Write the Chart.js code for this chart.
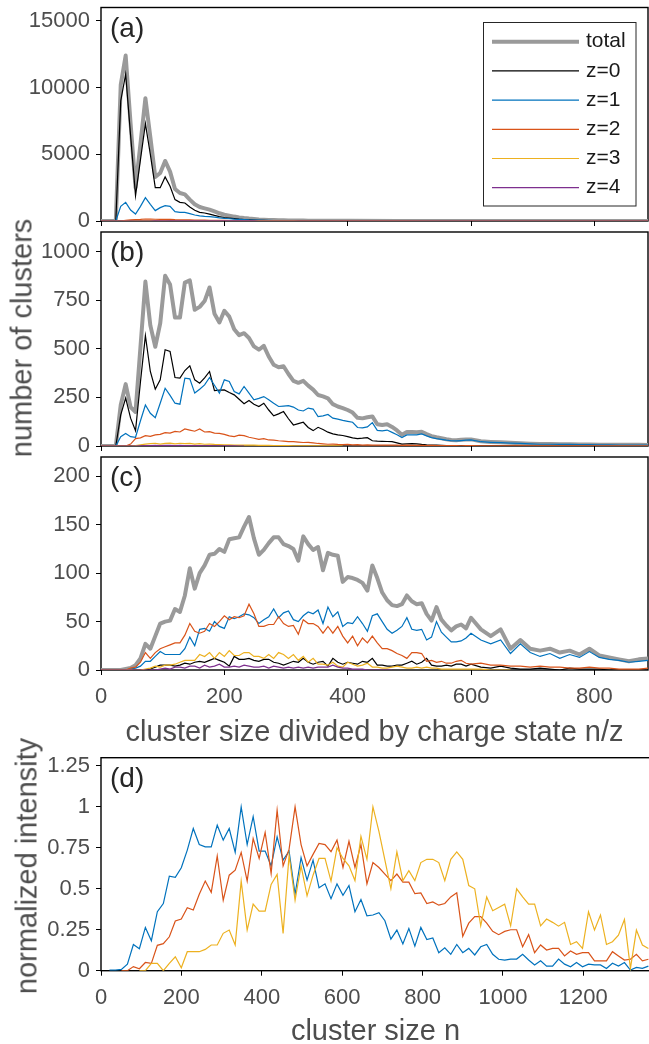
<!DOCTYPE html>
<html>
<head>
<meta charset="utf-8">
<script src="https://cdn.jsdelivr.net/npm/chart.js@4.4.1/dist/chart.umd.min.js"></script>
<style>
  html, body { margin: 0; padding: 0; background: #fff; overflow: hidden; }
  #page { position: relative; width: 649px; height: 1044px; overflow: hidden; background: #fff; }
  #page canvas { position: absolute; left: 0; }
  .ylabel { position: absolute; width: 0; height: 0; }
  .ylabel span {
    position: absolute; left: 0; top: 0; white-space: nowrap;
    transform: translate(-50%, -50%) rotate(-90deg);
    font: 29px/29px 'Liberation Sans', Arial, Helvetica, sans-serif; color: #4d4d4d;
  }
</style>
</head>
<body>
<div id="page">
  <canvas id="panelA" width="649" height="229" style="top:0px;width:649px;height:229px"></canvas>
  <canvas id="panelB" width="649" height="225" style="top:229px;width:649px;height:225px"></canvas>
  <canvas id="panelC" width="649" height="296" style="top:454px;width:649px;height:296px"></canvas>
  <canvas id="panelD" width="652" height="300" style="top:750px;width:652px;height:300px"></canvas>
  <div class="ylabel" style="left:21.6px;top:338px"><span>number of clusters</span></div>
  <div class="ylabel" style="left:26.6px;top:866px"><span>normalized intensity</span></div>
</div>
<script>
const FONT = "'Liberation Sans', Arial, Helvetica, sans-serif";
const TEXT = '#4d4d4d';

// bin centres (n/z for a-c, n for d)
function steps(from, to, step) {
    const out = [];
    for (let v = from; v <= to + 1e-6; v += step) out.push(Math.round(v * 10) / 10);
    return out;
}
const nzA = steps(0, 400, 8).concat([480, 560, 640, 720, 800, 888]);
const nzBC = steps(0, 600, 8).concat(steps(616, 888, 16));
const nD = steps(21, 1362, 14.9);

// ---- panel (a)
const totalA = [
    0, 0, 0, 0, 10200, 12400, 7300, 2500, 5800, 9200,
    6300, 3300, 3600, 4500, 3700, 2400, 2100, 2000, 1600, 1250,
    1050, 950, 850, 720, 580, 470, 400, 330, 270, 220,
    180, 150, 120, 100, 80, 70, 60, 52, 45, 38,
    33, 29, 25, 22, 20, 18, 16, 14, 12, 11,
    10, 5, 3, 2, 1, 1, 0
];
const z0A = [
    0, 0, 0, 0, 9000, 11000, 6400, 1900, 4600, 7300,
    5000, 2500, 2500, 3300, 2600, 1600, 1400, 1350, 1050, 800,
    650, 600, 520, 420, 330, 260, 220, 180, 140, 110,
    90, 70, 55, 45, 35, 30, 25, 20, 16, 12,
    10, 8, 6, 5, 4, 3, 2, 2, 1, 1,
    1, 0, 0, 0, 0, 0, 0
];
const z1A = [
    0, 0, 0, 0, 1100, 1400, 820, 520, 1100, 1750,
    1250, 780, 1000, 1150, 1100, 700, 650, 650, 550, 450,
    380, 350, 330, 290, 240, 200, 170, 140, 120, 100,
    80, 70, 60, 50, 40, 35, 30, 28, 25, 22,
    20, 18, 16, 14, 13, 12, 11, 10, 9, 8,
    8, 4, 2, 1, 1, 0, 0
];
const z2A = [
    0, 0, 0, 0, 0, 40, 80, 100, 120, 150,
    140, 130, 120, 130, 120, 100, 95, 90, 80, 70,
    65, 60, 55, 50, 45, 40, 35, 30, 28, 25,
    22, 20, 18, 16, 14, 12, 11, 10, 9, 8,
    7, 6, 6, 5, 5, 4, 4, 3, 3, 3,
    3, 2, 1, 1, 0, 0, 0
];
const z3A = [
    0, 0, 0, 0, 0, 0, 0, 5, 10, 14,
    18, 20, 22, 22, 20, 20, 18, 18, 16, 15,
    14, 13, 12, 11, 10, 9, 8, 7, 6, 5,
    5, 4, 4, 3, 3, 3, 2, 2, 2, 2,
    1, 1, 1, 1, 1, 1, 1, 1, 1, 1,
    1, 0, 0, 0, 0, 0, 0
];
const z4A = [
    0, 0, 0, 0, 0, 0, 0, 0, 0, 0,
    0, 2, 3, 4, 5, 5, 6, 6, 6, 5,
    5, 5, 4, 4, 4, 3, 3, 3, 2, 2,
    2, 2, 1, 1, 1, 1, 1, 1, 1, 1,
    1, 1, 1, 1, 1, 1, 1, 1, 1, 1,
    1, 0, 0, 0, 0, 0, 0
];

// ---- panel (b)
const totalB = [
    0, 0, 0, 0, 211, 318, 200, 175, 510, 845,
    620, 510, 630, 875, 830, 660, 660, 840, 851, 700,
    715, 745, 815, 680, 635, 695, 665, 600, 570, 580,
    555, 512, 495, 515, 460, 418, 405, 410, 370, 335,
    325, 335, 310, 290, 262, 255, 245, 215, 203, 195,
    185, 172, 145, 142, 148, 152, 112, 108, 112, 98,
    80, 58, 72, 72, 71, 73, 61, 51, 45, 40,
    35, 31, 30, 32, 33, 34, 24, 21, 19, 17,
    14, 12, 10, 10, 9, 9, 8, 8, 7, 7,
    6, 6, 6, 5
];
const z0B = [
    0, 0, 0, 0, 160, 246, 143, 79, 330, 567,
    383, 292, 340, 495, 486, 352, 349, 388, 412, 340,
    323, 350, 383, 285, 287, 288, 275, 263, 240, 217,
    234, 215, 203, 220, 185, 155, 165, 177, 140, 108,
    115, 122, 95, 79, 96, 85, 71, 62, 57, 54,
    48, 42, 38, 40, 43, 27, 25, 24, 23, 22,
    16, 10, 11, 12, 11, 8, 6, 5, 4, 3,
    2, 1, 1, 1, 0, 0, 0, 0, 0, 0,
    0, 0, 0, 0, 0, 0, 0, 0, 0, 0,
    0, 0, 0, 0
];
const z1B = [
    0, 0, 0, 0, 48, 64, 48, 45, 130, 211,
    168, 146, 220, 297, 260, 220, 215, 349, 345, 272,
    292, 314, 352, 312, 272, 340, 332, 280, 268, 306,
    272, 237, 245, 254, 238, 220, 203, 205, 207, 200,
    185, 180, 195, 190, 151, 155, 162, 143, 138, 132,
    127, 122, 95, 93, 98, 120, 80, 78, 82, 70,
    58, 43, 57, 57, 57, 62, 52, 43, 38, 34,
    30, 27, 26, 28, 30, 31, 22, 19, 17, 15,
    13, 11, 9, 9, 8, 8, 7, 7, 6, 6,
    5, 5, 5, 4
];
const z2B = [
    0, 0, 0, 0, 0, 0, 10, 38, 42, 53,
    50, 57, 60, 69, 66, 75, 72, 88, 82, 76,
    88, 72, 74, 66, 65, 60, 52, 48, 56, 53,
    45, 40, 34, 38, 31, 30, 27, 25, 22, 22,
    20, 18, 19, 16, 13, 11, 9, 10, 8, 7,
    8, 6, 7, 5, 6, 5, 4, 5, 4, 4,
    4, 3, 4, 3, 3, 3, 2, 3, 2, 2,
    2, 2, 2, 1, 2, 2, 1, 1, 1, 1,
    1, 1, 1, 1, 1, 1, 1, 1, 1, 1,
    1, 1, 1, 1
];
const z3B = [
    0, 0, 0, 0, 0, 0, 0, 2, 6, 10,
    12, 14, 10, 13, 15, 11, 14, 12, 13, 10,
    12, 9, 10, 8, 7, 6, 6, 5, 5, 4,
    4, 4, 3, 3, 3, 2, 2, 2, 2, 1,
    1, 1, 1, 1, 1, 1, 1, 1, 1, 0
];
const z4B = [
    0, 0, 0, 0, 0, 0, 0, 0, 1, 2,
    2, 3, 2, 3, 3, 2, 3, 2, 2, 2,
    2, 1, 2, 1, 1, 1, 1, 1, 0, 0
];

// ---- panel (c)
const totalC = [
    0, 0, 0, 0, 0, 1, 2, 5, 12, 27,
    22, 35, 48, 50, 51, 63, 60, 77, 105, 84,
    100, 108, 119, 120, 125, 122, 135, 136, 137, 148,
    158, 136, 119, 124, 131, 137, 137, 130, 128, 125,
    113, 138, 130, 124, 127, 103, 121, 119, 118, 91,
    96, 95, 93, 90, 82, 108, 95, 80, 72, 67,
    66, 68, 77, 71, 68, 69, 58, 51, 65, 52,
    46, 41, 45, 47, 43, 54, 42, 35, 42, 22,
    31, 22, 20, 22, 18, 20, 16, 22, 15, 13,
    11, 9, 11, 12
];
const z0C = [
    0, 0, 0, 0, 0, 0, 0, 0, 0, 0,
    1, 3, 5, 5, 5, 4, 5, 7, 6, 8,
    9, 8, 10, 12, 10, 8, 4, 14, 11, 11,
    12, 10, 9, 11, 11, 8, 7, 5, 7, 9,
    8, 12, 8, 6, 8, 9, 4, 12, 8, 6,
    8, 7, 6, 9, 8, 12, 5, 5, 4, 4,
    5, 5, 7, 9, 6, 8, 12, 5, 4, 4,
    5, 4, 6, 6, 4, 6, 3, 2, 4, 2,
    1, 1, 2, 1, 0, 2, 1, 1, 1, 0,
    0, 0, 0, 0
];
const z1C = [
    0, 0, 0, 0, 0, 0, 1, 2, 4, 9,
    9, 14, 19, 16, 16, 16, 16, 22, 34, 25,
    42, 43, 40, 50, 45, 43, 55, 53, 55, 58,
    57, 54, 48, 52, 55, 63, 54, 59, 61, 52,
    50, 56, 60, 58, 62, 48, 65, 55, 60, 45,
    49, 48, 55, 48, 40, 56, 58, 50, 42, 38,
    41, 45, 54, 42, 41, 42, 31, 34, 50, 39,
    34, 29, 29, 30, 33, 38, 31, 27, 31, 17,
    27, 18, 14, 17, 12, 16, 13, 19, 13, 11,
    10, 8, 9, 10
];
const z2C = [
    0, 0, 0, 0, 0, 0, 2, 3, 8, 18,
    12, 18, 22, 24, 26, 28, 28, 36, 48, 40,
    38, 40, 48, 45, 50, 56, 52, 55, 54, 56,
    68, 58, 45, 45, 47, 47, 55, 48, 45, 46,
    37, 52, 48, 48, 45, 38, 45, 38, 45, 35,
    28, 35, 25, 33, 28, 35, 28, 22, 22, 20,
    17, 15, 12, 18, 18, 17, 9, 10, 8, 9,
    7, 7, 9, 10, 7, 6, 7, 5, 5, 4,
    4, 3, 4, 3, 3, 2, 2, 3, 2, 2,
    1, 1, 1, 2
];
const z3C = [
    0, 0, 0, 0, 0, 0, 0, 0, 0, 1,
    2, 4, 3, 5, 5, 6, 8, 10, 10, 10,
    16, 14, 18, 12, 18, 14, 20, 15, 15, 18,
    18, 14, 14, 12, 16, 12, 18, 16, 12, 16,
    10, 14, 8, 12, 6, 6, 5, 8, 4, 3,
    8, 6, 4, 5, 7, 3, 3, 2, 2, 3,
    4, 3, 2, 2, 3, 2, 3, 2, 2, 1,
    1, 1, 1, 1, 1, 1, 1, 0, 0, 0
];
const z4C = [
    0, 0, 0, 0, 0, 0, 0, 0, 0, 0,
    0, 0, 1, 2, 1, 3, 3, 2, 4, 4,
    2, 5, 3, 4, 6, 3, 3, 4, 3, 5,
    4, 3, 3, 4, 2, 4, 3, 2, 3, 2,
    3, 2, 3, 2, 3, 3, 3, 5, 3, 2,
    2, 1, 1, 1, 0, 0, 0, 0, 0, 0
];

// ---- panel (d), normalized intensity vs n
const z1D = [
    0.004, 0.004, 0.008, 0.04, 0.16, 0.134, 0.264, 0.183, 0.36, 0.41,
    0.577, 0.57, 0.628, 0.736, 0.868, 0.77, 0.756, 0.756, 0.888, 0.797,
    0.868, 0.722, 1.0, 0.77, 0.94, 0.73, 0.73, 0.64, 0.817, 0.675,
    0.73, 0.466, 0.69, 0.553, 0.675, 0.506, 0.53, 0.44, 0.53, 0.46,
    0.52, 0.36, 0.435, 0.335, 0.34, 0.354, 0.305, 0.193, 0.248, 0.163,
    0.258, 0.15, 0.264, 0.19, 0.2, 0.11, 0.14, 0.1, 0.16, 0.11,
    0.136, 0.096, 0.146, 0.16, 0.1, 0.07, 0.065, 0.071, 0.071, 0.1,
    0.065, 0.035, 0.061, 0.028, 0.028, 0.071, 0.04, 0.024, 0.05, 0.024,
    0.04, 0.035, 0.035, 0.014, 0.045, 0.028, 0.05, 0.004, 0.02, 0.014,
    0.028
];
const z2D = [
    null, null, 0, 0, 0.025, 0.012, 0.05, 0.045, 0.155, 0.165,
    0.207, 0.303, 0.315, 0.384, 0.37, 0.466, 0.547, 0.478, 0.70, 0.43,
    0.583, 0.614, 0.722, 0.547, 0.807, 0.685, 0.844, 0.594, 0.98, 0.64,
    0.742, 1.0, 0.77, 0.64, 0.71, 0.777, 0.77, 0.726, 0.797, 0.63,
    0.79, 0.63, 0.77, 0.53, 0.66, 0.63, 0.59, 0.55, 0.59, 0.54,
    0.54, 0.47, 0.475, 0.41, 0.42, 0.4, 0.41, 0.45, 0.475, 0.21,
    0.29, 0.33, 0.33, 0.29, 0.24, 0.22, 0.24, 0.25, 0.25, 0.146,
    0.22, 0.11, 0.157, 0.126, 0.136, 0.136, 0.09, 0.12, 0.1, 0.11,
    0.11, 0.06, 0.06, 0.06, 0.116, 0.09, 0.065, 0.07, 0.1, 0.06,
    0.07
];
const z3D = [
    null, null, null, null, null, 0, 0, 0.045, 0.045, 0,
    0.045, 0.085, 0.018, 0.116, 0.116, 0.116, 0.13, 0.157, 0.157, 0.228,
    0.248, 0.157, 0.547, 0.248, 0.407, 0.364, 0.364, 0.527, 0.588, 0.228,
    0.705, 0.43, 0.64, 0.457, 0.583, 0.685, 0.685, 0.547, 0.75, 0.685,
    0.64, 0.55, 0.82, 0.68, 1.0, 0.85, 0.675, 0.5, 0.725, 0.55,
    0.61, 0.55, 0.66, 0.68, 0.68, 0.66, 0.55, 0.68, 0.725, 0.68,
    0.52, 0.5, 0.274, 0.45, 0.366, 0.386, 0.406, 0.274, 0.5, 0.45,
    0.406, 0.406, 0.274, 0.315, 0.295, 0.272, 0.295, 0.16, 0.177, 0.136,
    0.36, 0.248, 0.34, 0.16, 0.177, 0.217, 0.313, 0.014, 0.248, 0.157,
    0.136
];

const STYLE = {
    total: { label: 'total', color: '#9a9a9a', width: 4, order: 6 },
    z0: { label: 'z=0', color: '#000000', width: 1.2, order: 5 },
    z1: { label: 'z=1', color: '#0072BD', width: 1.2, order: 4 },
    z2: { label: 'z=2', color: '#D95319', width: 1.2, order: 3 },
    z3: { label: 'z=3', color: '#EDB120', width: 1.2, order: 2 },
    z4: { label: 'z=4', color: '#7E2F8E', width: 1.2, order: 1 }
};

function series(style, xs, ys) {
    return {
        label: style.label,
        data: ys.map((y, i) => ({ x: xs[i], y: y })),
        borderColor: style.color,
        backgroundColor: style.color,
        borderWidth: style.width,
        borderJoinStyle: style.width > 2 ? 'round' : 'miter',
        order: style.order,
        pointRadius: 0,
        tension: 0,
        fill: false
    };
}

// axes box, drawn under the data like MATLAB does
const framePlugin = {
    id: 'frame',
    beforeDatasetsDraw(chart) {
        const { ctx, chartArea: a } = chart;
        ctx.save();
        ctx.strokeStyle = '#000';
        ctx.lineWidth = 1.4;
        ctx.strokeRect(a.left, a.top, a.right - a.left, a.bottom - a.top);
        ctx.restore();
    }
};

const tagPlugin = {
    id: 'tag',
    afterDatasetsDraw(chart, args, opts) {
        const { ctx, chartArea: a } = chart;
        ctx.save();
        ctx.font = '28px ' + FONT;
        ctx.fillStyle = '#262626';
        ctx.textBaseline = 'alphabetic';
        ctx.fillText(opts.text, a.left + 9, a.top + 29);
        ctx.restore();
    }
};

const keyPlugin = {
    id: 'seriesKey',
    afterDatasetsDraw(chart) {
        const ctx = chart.ctx;
        ctx.save();
        ctx.fillStyle = '#fff';
        ctx.fillRect(483.5, 22.5, 152.5, 183.5);
        ctx.strokeStyle = '#262626';
        ctx.lineWidth = 1;
        ctx.strokeRect(483.5, 22.5, 152.5, 183.5);
        ctx.font = '21px ' + FONT;
        ctx.textBaseline = 'middle';
        chart.data.datasets.forEach((ds, i) => {
            const y = 41.7 + i * 29.2;
            ctx.strokeStyle = ds.borderColor;
            ctx.lineWidth = ds.borderWidth;
            ctx.beginPath();
            ctx.moveTo(492, y);
            ctx.lineTo(579, y);
            ctx.stroke();
            ctx.fillStyle = '#1a1a1a';
            ctx.fillText(ds.label, 586, y);
        });
        ctx.restore();
    }
};

function axis(o) {
    return {
        type: 'linear',
        min: o.min,
        max: o.max,
        afterBuildTicks: s => { s.ticks = o.ticks.map(v => ({ value: v })); },
        afterFit: s => {
            if (o.width != null) s.width = o.width;
            if (o.height != null) s.height = o.height;
            s.paddingLeft = s.paddingRight = s.paddingTop = s.paddingBottom = 0;
        },
        border: { display: false },
        grid: { drawOnChartArea: false, drawTicks: true, tickLength: 5, color: '#000', lineWidth: 1 },
        ticks: {
            display: o.labels !== false,
            color: TEXT,
            font: { family: FONT, size: 22 },
            padding: o.pad,
            maxRotation: 0,
            autoSkip: false,
            callback: v => String(v)
        },
        title: o.title ? {
            display: true,
            text: o.title,
            color: TEXT,
            font: { family: FONT, size: 29, lineHeight: 1 },
            padding: o.titlePad
        } : { display: false }
    };
}

function makePanel(id, cfg) {
    return new Chart(document.getElementById(id), {
        type: 'line',
        data: { datasets: cfg.datasets },
        plugins: [framePlugin, tagPlugin].concat(cfg.extra || []),
        options: {
            responsive: false,
            animation: false,
            events: [],
            layout: { padding: cfg.padding, autoPadding: false },
            plugins: {
                legend: { display: false },
                tooltip: { enabled: false },
                tag: { text: cfg.tag }
            },
            scales: { x: cfg.x, y: cfg.y }
        }
    });
}

const nzTicks = [0, 200, 400, 600, 800];

makePanel('panelA', {
    tag: '(a)',
    extra: [keyPlugin],
    padding: { top: 7.5, right: 1, left: 0, bottom: 0 },
    datasets: [
        series(STYLE.total, nzA, totalA),
        series(STYLE.z0, nzA, z0A),
        series(STYLE.z1, nzA, z1A),
        series(STYLE.z2, nzA, z2A),
        series(STYLE.z3, nzA, z3A),
        series(STYLE.z4, nzA, z4A)
    ],
    x: axis({ min: 0, max: 887, ticks: nzTicks, labels: false, height: 8, pad: 9 }),
    y: axis({ min: 0, max: 16000, ticks: [0, 5000, 10000, 15000], width: 101, pad: 6 })
});

makePanel('panelB', {
    tag: '(b)',
    padding: { top: 3, right: 1, left: 0, bottom: 0 },
    datasets: [
        series(STYLE.total, nzBC, totalB),
        series(STYLE.z0, nzBC, z0B),
        series(STYLE.z1, nzBC, z1B),
        series(STYLE.z2, nzBC, z2B),
        series(STYLE.z3, nzBC, z3B),
        series(STYLE.z4, nzBC, z4B)
    ],
    x: axis({ min: 0, max: 887, ticks: nzTicks, labels: false, height: 8, pad: 9 }),
    y: axis({ min: 0, max: 1100, ticks: [0, 250, 500, 750, 1000], width: 101, pad: 6 })
});

makePanel('panelC', {
    tag: '(c)',
    padding: { top: 3, right: 1, left: 0, bottom: 0 },
    datasets: [
        series(STYLE.total, nzBC, totalC),
        series(STYLE.z0, nzBC, z0C),
        series(STYLE.z1, nzBC, z1C),
        series(STYLE.z2, nzBC, z2C),
        series(STYLE.z3, nzBC, z3C),
        series(STYLE.z4, nzBC, z4C)
    ],
    x: axis({ min: 0, max: 887, ticks: nzTicks, height: 80, pad: 9,
              title: 'cluster size divided by charge state n/z', titlePad: { top: 0, bottom: 2.8 } }),
    y: axis({ min: 0, max: 220, ticks: [0, 50, 100, 150, 200], width: 101, pad: 6 })
});

makePanel('panelD', {
    tag: '(d)',
    padding: { top: 7.7, right: 2, left: 0, bottom: 0 },
    datasets: [
        series(STYLE.z1, nD, z1D),
        series(STYLE.z2, nD, z2D),
        series(STYLE.z3, nD, z3D)
    ],
    x: axis({ min: 0, max: 1366, ticks: [0, 200, 400, 600, 800, 1000, 1200], height: 79.3, pad: 9,
              title: 'cluster size n', titlePad: { top: 0, bottom: 4 } }),
    y: axis({ min: 0, max: 1.3, ticks: [0, 0.25, 0.5, 0.75, 1, 1.25], width: 101, pad: 6 })
});
</script>
</body>
</html>
